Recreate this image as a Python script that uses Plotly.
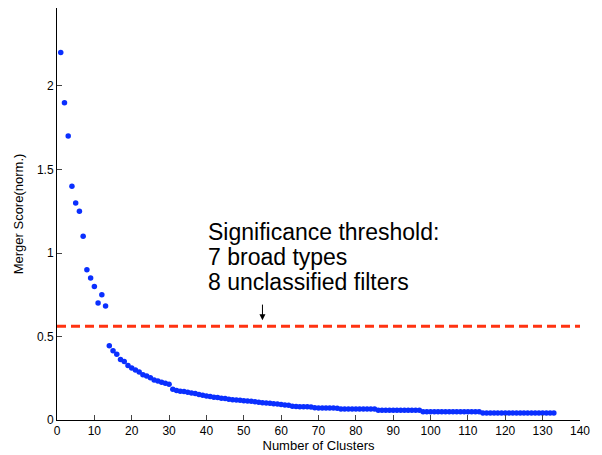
import plotly.graph_objects as go

clusters = list(range(1, 134))
scores = (
    [2.20, 1.90, 1.70, 1.40, 1.30, 1.25, 1.10, 0.90, 0.85, 0.80,
     0.70, 0.75, 0.683, 0.445, 0.415, 0.393, 0.363, 0.351, 0.327, 0.311,
     0.300, 0.287, 0.271, 0.263, 0.253, 0.240, 0.234, 0.226, 0.220, 0.214,
     0.184, 0.176, 0.172, 0.170, 0.166, 0.162, 0.158, 0.152, 0.148, 0.144,
     0.140, 0.136, 0.134, 0.130, 0.128, 0.124, 0.122, 0.120, 0.118, 0.116,
     0.114, 0.112, 0.110, 0.106, 0.104, 0.102, 0.100, 0.098, 0.096, 0.093,
     0.090, 0.088, 0.082, 0.081, 0.080, 0.080, 0.079, 0.078, 0.073, 0.072,
     0.072, 0.072, 0.072, 0.072, 0.071]
    + [0.066] * 10
    + [0.058] * 12
    + [0.050] * 16
    + [0.042] * 20
)
threshold = 0.561
annot_lines = ["Significance threshold:", "7 broad types", "8 unclassified filters"]
annot_y = [1.127, 0.977, 0.828]
annot_x = 40.0
arrow_x = 55
arrow_top = 0.70
arrow_tip = 0.598
x_ticks = list(range(0, 141, 10))
y_ticks = [0, 0.5, 1, 1.5, 2]
y_tick_text = ["0", "0.5", "1", "1.5", "2"]

FONT = "Liberation Sans, Arial, Helvetica, sans-serif"

fig = go.Figure()
fig.add_trace(go.Scatter(
    x=[0, 140], y=[threshold, threshold], mode="lines",
    line=dict(color="#ff3311", width=3, dash="9px,5px"),
    hoverinfo="skip", showlegend=False))
fig.add_trace(go.Scatter(
    x=clusters, y=scores, mode="markers",
    marker=dict(color="#0a2fff", size=5.5, line=dict(width=0)),
    showlegend=False))

for txt, yy in zip(annot_lines, annot_y):
    fig.add_annotation(
        x=annot_x, y=yy, xref="x", yref="y",
        text=txt, showarrow=False,
        xanchor="left", yanchor="middle", align="left",
        font=dict(family=FONT, size=23, color="black"))
fig.add_annotation(
    x=arrow_x, y=arrow_tip, ax=arrow_x, ay=arrow_top,
    xref="x", yref="y", axref="x", ayref="y",
    showarrow=True, arrowhead=2, arrowsize=1.2, arrowwidth=1, arrowcolor="black", text="")

axis_font = dict(family=FONT, size=12, color="black")
fig.update_layout(
    width=594, height=447,
    margin=dict(l=49, r=22, t=0, b=35),
    plot_bgcolor="white", paper_bgcolor="white",
    xaxis=dict(range=[0, 140], tickvals=x_ticks, ticks="inside", ticklen=5,
               showline=True, linecolor="black", linewidth=1, showgrid=False,
               zeroline=False, tickfont=axis_font, automargin=False,
               title=dict(text="Number of Clusters", font=dict(family=FONT, size=13, color="black"), standoff=3)),
    yaxis=dict(range=[0, 2.467], tickvals=y_ticks, ticktext=y_tick_text, ticks="inside", ticklen=5,
               showline=True, linecolor="black", linewidth=1, showgrid=False,
               zeroline=False, tickfont=axis_font, automargin=False,
               title=dict(text="Merger Score(norm.)", font=dict(family=FONT, size=13, color="black"), standoff=10)),
)
fig.write_html("out.html")
